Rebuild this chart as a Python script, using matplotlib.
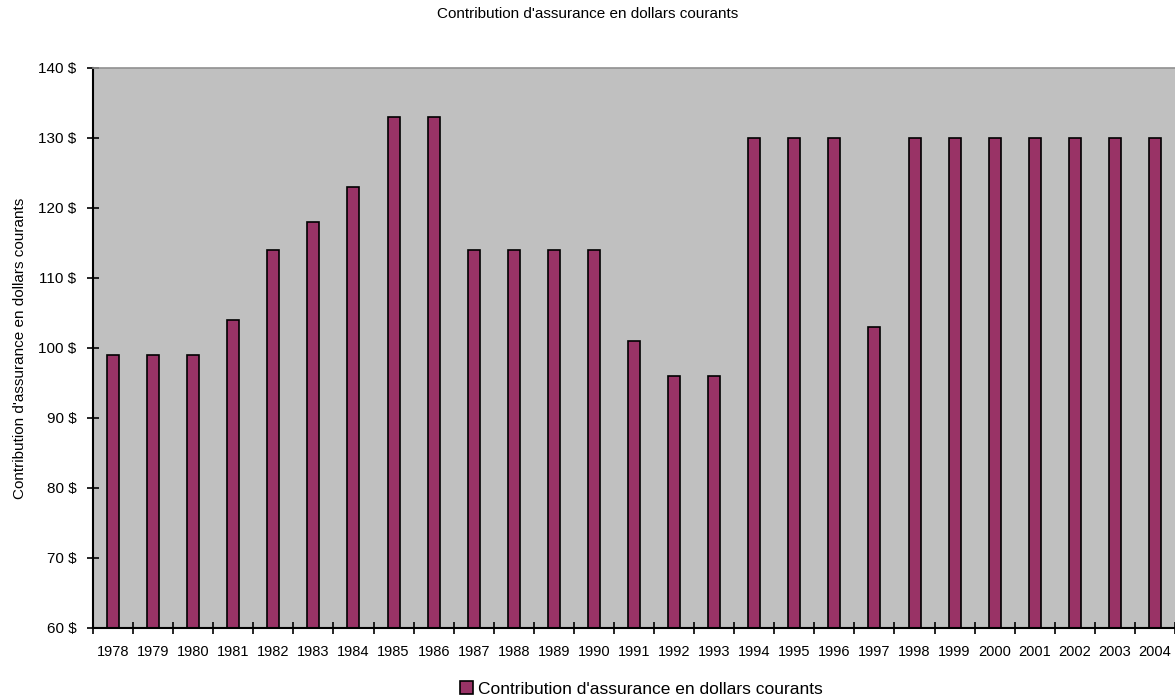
import matplotlib.pyplot as plt
import numpy as np

years = ['1978', '1979', '1980', '1981', '1982', '1983', '1984', '1985', '1986',
         '1987', '1988', '1989', '1990', '1991', '1992', '1993', '1994', '1995',
         '1996', '1997', '1998', '1999', '2000', '2001', '2002', '2003', '2004']
contrib = [99, 99, 99, 104, 114, 118, 123, 133, 133,
           114, 114, 114, 114, 101, 96, 96, 130, 130,
           130, 103, 130, 130, 130, 130, 130, 130, 130]
yticks = [60, 70, 80, 90, 100, 110, 120, 130, 140]
label = "Contribution d'assurance en dollars courants"

plt.rcParams['font.family'] = ['Liberation Sans', 'DejaVu Sans']

fig = plt.figure(figsize=(11.75, 7), dpi=100)
ax = fig.add_axes([93 / 1175, 1 - 628 / 700, 1 - 93 / 1175, (628 - 68) / 700])
ax.set_facecolor('#c0c0c0')

x = np.arange(len(years))
bars = ax.bar(x, [v - 60 for v in contrib], bottom=60, width=0.3,
              color='#993366', edgecolor='black', linewidth=1.2, label=label)

ax.set_xlim(-0.5, len(years) - 0.5)
ax.set_ylim(60, 140)
ax.set_yticks(yticks)
ax.set_yticklabels([f'{t} $' for t in yticks], fontsize=11)
ax.set_xticks(x)
ax.set_xticklabels(years, fontsize=10.5)
ax.set_xticks(np.arange(len(years) + 1) - 0.5, minor=True)
ax.tick_params(axis='x', which='major', length=0, pad=12)
ax.tick_params(axis='x', which='minor', length=8, direction='inout', width=1.2)
ax.tick_params(axis='y', length=8, direction='inout', width=1.2, pad=8)

ax.spines['top'].set_color('#909090')
ax.spines['top'].set_linewidth(1.2)
ax.spines['right'].set_visible(False)
ax.spines['left'].set_linewidth(1.5)
ax.spines['bottom'].set_linewidth(1.5)

ax.set_ylabel(label, fontsize=11, labelpad=8)
fig.text(0.5, 1 - 14 / 700, label, ha='center', va='center', fontsize=11)

fig.legend(handles=[bars], labels=[label], loc='center',
           bbox_to_anchor=(0.546, 1 - 689 / 700), frameon=False, fontsize=12.5,
           handlelength=0.7, handleheight=0.7, handletextpad=0.3)

fig.savefig('out.png', dpi=100)
